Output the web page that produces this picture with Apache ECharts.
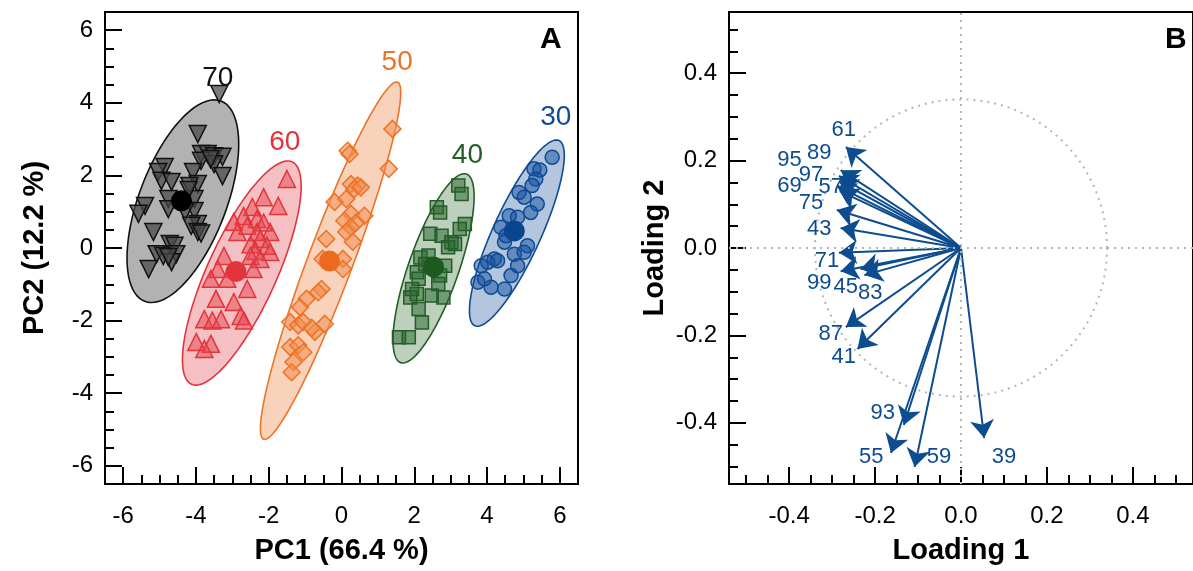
<!DOCTYPE html>
<html>
<head>
<meta charset="utf-8">
<script src="https://cdn.jsdelivr.net/npm/echarts@6/dist/echarts.min.js"></script>
<style>
  html, body { margin: 0; padding: 0; background: #fff; }
  #main { width: 1193px; height: 571px; }
</style>
</head>
<body>
<div id="main"></div>
<script>
// ---- scores (panel A) ----
var groupNames = ['30', '40', '50', '60', '70'];

var pc30 = [[5.79,2.50],[5.29,2.18],[5.45,2.15],[5.34,1.90],[5.24,1.72],[4.88,1.53],[5.02,1.40],[5.38,1.21],
  [5.20,0.98],[4.61,0.89],[4.84,0.85],[4.38,0.57],[4.52,0.34],[4.48,0.16],[5.11,0.06],[5.02,-0.12],[4.75,-0.17],
  [4.20,-0.30],[4.29,-0.35],[4.02,-0.39],[3.84,-0.49],[4.84,-0.49],[4.66,-0.76],[3.75,-0.94],[4.11,-1.08],
  [4.48,-1.13],[3.93,-0.85]];
var pc40 = [[3.21,1.72],[3.30,1.49],[2.62,1.12],[2.71,0.98],[3.39,0.66],[3.25,0.52],[2.44,0.39],[2.75,0.34],
  [3.02,0.16],[2.93,0.02],[3.12,0.11],[2.17,-0.26],[2.39,-0.21],[2.85,-0.49],[2.30,-0.44],[2.71,-0.76],
  [2.07,-0.67],[2.12,-0.85],[2.66,-0.99],[1.94,-1.13],[2.07,-1.27],[1.89,-1.36],[2.48,-1.31],[2.80,-1.36],
  [2.12,-1.68],[2.21,-2.05],[1.58,-2.46],[1.85,-2.46]];
var pc50 = [[1.40,3.28],[0.17,2.68],[0.22,2.59],[1.30,2.18],[0.26,1.76],[0.44,1.72],[0.35,1.62],[0.53,1.67],
  [-0.19,1.27],[0.13,1.35],[0.26,0.94],[0.63,0.89],[0.08,0.75],[0.40,0.70],[0.26,0.57],[0.13,0.44],[0.31,0.17],
  [-0.42,0.25],[0.04,-0.30],[-0.52,-0.30],[0.04,-0.58],[-0.55,-1.13],[-0.64,-1.22],[-0.96,-1.40],[-1.14,-1.63],
  [-1.41,-2.04],[-1.19,-2.13],[-1.05,-2.04],[-0.46,-2.09],[-0.73,-2.31],[-0.82,-2.20],[-1.41,-2.73],
  [-1.19,-2.68],[-1.05,-2.87],[-1.32,-3.14],[-1.37,-3.42]];
var pc60 = [[-1.50,1.90],[-2.14,1.40],[-1.74,1.16],[-2.45,1.13],[-2.69,0.88],[-2.32,0.80],[-2.14,0.70],
  [-2.96,0.72],[-2.59,0.61],[-2.32,0.44],[-1.96,0.44],[-2.86,0.44],[-2.23,0.25],[-2.50,0.10],[-2.05,0.06],
  [-2.36,-0.08],[-1.96,-0.11],[-3.23,-0.22],[-2.50,-0.22],[-2.23,-0.30],[-3.40,-0.58],[-2.42,-0.58],
  [-3.59,-0.85],[-3.14,-0.85],[-2.59,-1.13],[-3.45,-1.40],[-2.96,-1.49],[-2.77,-1.87],[-3.77,-1.96],
  [-3.55,-2.00],[-3.31,-1.96],[-2.68,-2.00],[-3.99,-2.59],[-3.59,-2.64],[-3.77,-2.78]];
var pc70 = [[-3.36,4.24],[-3.95,3.14],[-3.86,2.59],[-3.68,2.59],[-3.50,2.53],[-3.27,2.51],[-3.86,2.40],
  [-4.86,2.23],[-3.50,2.31],[-3.27,1.98],[-5.04,2.09],[-4.95,1.85],[-4.67,1.82],[-4.08,2.09],[-3.95,1.76],
  [-4.18,1.71],[-4.76,1.35],[-4.04,1.35],[-5.40,1.16],[-5.58,0.94],[-4.76,1.07],[-4.04,1.02],[-4.30,1.00],
  [-3.95,0.66],[-5.17,0.44],[-4.13,0.61],[-3.95,0.44],[-3.86,0.40],[-4.72,0.11],[-4.59,0.06],[-5.08,-0.17],
  [-4.90,-0.22],[-4.54,-0.17],[-5.30,-0.58],[-4.67,-0.39],[-4.76,-0.25],[-4.20,1.60],[-3.60,2.45]];
var groupPoints = [pc30, pc40, pc50, pc60, pc70];

var centroids = [[4.75,0.47],[2.53,-0.52],[-0.33,-0.36],[-2.90,-0.65],[-4.40,1.30]];
// confidence ellipses: centre x, centre y, semi-major, semi-minor, angle (deg)
var ellipses = [[4.82,0.41,2.80,0.66,65.6],[2.53,-0.56,2.75,0.69,70.8],[-0.30,-0.35,5.25,0.62,69.5],
  [-2.74,-0.69,3.36,0.95,65.7],[-4.36,1.29,2.95,1.20,69.2]];
var groupLabelPos = [[5.89,3.61],[3.46,2.56],[1.53,5.12],[-1.56,2.92],[-3.40,4.68]];

// ---- loadings (panel B) ----
var loadNames = ['61','89','95','97','69','57','75','43','71','99','45','83','87','41','93','55','59','39'];
var load1 = [-0.268,-0.280,-0.284,-0.284,-0.289,-0.282,-0.289,-0.280,-0.284,-0.280,-0.234,-0.225,-0.268,-0.241,-0.133,-0.163,-0.108,0.054];
var load2 = [0.231,0.178,0.165,0.153,0.142,0.130,0.087,0.046,-0.011,-0.053,-0.048,-0.062,-0.181,-0.231,-0.405,-0.469,-0.501,-0.435];
var labelX = [-0.273,-0.330,-0.399,-0.349,-0.399,-0.303,-0.349,-0.330,-0.312,-0.330,-0.268,-0.211,-0.303,-0.273,-0.182,-0.209,-0.051,0.100];
var labelY = [0.270,0.217,0.201,0.167,0.142,0.139,0.103,0.043,-0.030,-0.080,-0.089,-0.103,-0.197,-0.249,-0.377,-0.478,-0.478,-0.478];
var circleRadius = 0.34;

// ---- tick labels ----
var pcTicks = [-6, -4, -2, 0, 2, 4, 6];
var loadTicks = [-0.4, -0.2, 0, 0.2, 0.4];

var FONT = 'Liberation Sans, Arial, sans-serif';
var lineColors = ['#0f4c94', '#235e27', '#ed7327', '#e3343c', '#111111'];
var ellipseFills = ['#b4c6de', '#bdd0bd', '#f8d2ba', '#f4c0c3', '#b2b2b2'];
var markerFills = ['rgba(20,80,160,0.5)', 'rgba(40,100,45,0.5)', 'rgba(240,140,80,0.55)', 'rgba(230,70,80,0.5)', 'rgba(70,70,70,0.72)'];
var centroidColors = ['#0a4590', '#1e5a1f', '#ec6a1e', '#e3343c', '#000000'];
var symbols = ['circle', 'rect', 'rect', 'triangle', 'triangle'];
var symbolSizes = [14, 13, 12, 17, 17];
var symbolRotates = [0, 0, 45, 0, 180];
var blue = '#0d4c8f';

function minorTicks(lo, hi, step, majors) {
    var out = [];
    var n = Math.round((hi - lo) / step);
    for (var i = 0; i <= n; i++) {
        var v = Math.round((lo + i * step) * 1000) / 1000;
        if (!majors.some(function (m) { return Math.abs(m - v) < 1e-6; })) out.push(v);
    }
    return out;
}

function majorAxis(grid, lo, hi, pos, ticks, fmt, name, gap, margin) {
    return {
        gridIndex: grid, type: 'value', min: lo, max: hi, position: pos,
        axisLine: { show: true, onZero: false, lineStyle: { color: '#000', width: 2 } },
        axisTick: { show: true, inside: true, length: 17, customValues: ticks, lineStyle: { color: '#000', width: 2 } },
        axisLabel: { show: true, customValues: ticks, formatter: fmt, margin: margin,
            fontSize: 24, color: '#000', fontFamily: FONT },
        splitLine: { show: false },
        name: name, nameLocation: 'middle', nameGap: gap,
        nameTextStyle: { fontSize: 29, fontWeight: 'bold', color: '#000', fontFamily: FONT }
    };
}

function minorAxis(grid, lo, hi, pos, ticks) {
    return {
        gridIndex: grid, type: 'value', min: lo, max: hi, position: pos,
        axisLine: { show: false, onZero: false },
        axisTick: { show: true, inside: true, length: 9, customValues: ticks, lineStyle: { color: '#000', width: 2 } },
        axisLabel: { show: false },
        splitLine: { show: false }
    };
}

var pcMinor = minorTicks(-6, 6, 0.5, pcTicks);
var loadMinor = minorTicks(-0.5, 0.5, 0.05, loadTicks);
var fmtInt = function (v) { return String(Math.round(v)); };
var fmtDec = function (v) { return v.toFixed(1); };

function ellipseItem(params, api) {
    var cx = api.value(0), cy = api.value(1), a = api.value(2), b = api.value(3);
    var t = api.value(4) * Math.PI / 180;
    var pts = [];
    for (var k = 0; k < 120; k++) {
        var s = k / 120 * 2 * Math.PI;
        pts.push(api.coord([
            cx + a * Math.cos(s) * Math.cos(t) - b * Math.sin(s) * Math.sin(t),
            cy + a * Math.cos(s) * Math.sin(t) + b * Math.sin(s) * Math.cos(t)
        ]));
    }
    return {
        type: 'polygon', shape: { points: pts },
        style: { fill: ellipseFills[params.dataIndex], stroke: lineColors[params.dataIndex], lineWidth: 1.6 }
    };
}

function circleItem(params, api) {
    var r = api.value(2);
    var pts = [];
    for (var k = 0; k < 180; k++) {
        var s = k / 180 * 2 * Math.PI;
        pts.push(api.coord([api.value(0) + r * Math.cos(s), api.value(1) + r * Math.sin(s)]));
    }
    return {
        type: 'polygon', shape: { points: pts },
        style: { fill: 'none', stroke: '#b5b5b5', lineWidth: 2, lineDash: [2, 5] }
    };
}

var series = [];

series.push({
    type: 'custom', name: 'ellipses', xAxisIndex: 0, yAxisIndex: 0, z: 1,
    renderItem: ellipseItem, encode: { x: 0, y: 1 }, silent: true,
    data: ellipses
});

groupNames.forEach(function (g, i) {
    series.push({
        type: 'scatter', name: g, xAxisIndex: 0, yAxisIndex: 0, z: 3,
        symbol: symbols[i], symbolSize: symbolSizes[i], symbolRotate: symbolRotates[i],
        itemStyle: { color: markerFills[i], borderColor: lineColors[i], borderWidth: 1.5, opacity: 1 },
        data: groupPoints[i]
    });
});

series.push({
    type: 'scatter', name: 'centroids', xAxisIndex: 0, yAxisIndex: 0, z: 4,
    symbol: 'circle', symbolSize: 21,
    itemStyle: { color: function (p) { return centroidColors[p.dataIndex]; }, opacity: 1 },
    data: centroids
});

series.push({
    type: 'scatter', name: 'groupLabels', xAxisIndex: 0, yAxisIndex: 0, z: 5,
    symbolSize: 1, itemStyle: { color: 'rgba(0,0,0,0)', opacity: 1 },
    label: {
        show: true, position: 'inside', fontSize: 28, fontFamily: FONT,
        formatter: function (p) { return groupNames[p.dataIndex]; }
    },
    data: groupLabelPos.map(function (p, i) {
        return { value: p, label: { color: lineColors[i] } };
    })
});

series.push({
    type: 'custom', name: 'circle', xAxisIndex: 2, yAxisIndex: 2, z: 1,
    renderItem: circleItem, encode: { x: 0, y: 1 }, silent: true,
    data: [[0, 0, circleRadius]]
});

series.push({
    type: 'lines', name: 'loadings', coordinateSystem: 'cartesian2d', xAxisIndex: 2, yAxisIndex: 2, z: 3,
    symbol: ['none', 'arrow'], symbolSize: [1, 18],
    lineStyle: { color: blue, width: 2, opacity: 1, curveness: 0 },
    data: loadNames.map(function (n, i) {
        return { name: n, coords: [[0, 0], [load1[i], load2[i]]] };
    })
});

series.push({
    type: 'scatter', name: 'loadingLabels', xAxisIndex: 2, yAxisIndex: 2, z: 4,
    symbolSize: 1, itemStyle: { color: 'rgba(0,0,0,0)', opacity: 1 },
    label: {
        show: true, position: 'inside', fontSize: 22, fontFamily: FONT, color: blue,
        formatter: function (p) { return loadNames[p.dataIndex]; }
    },
    markLine: {
        silent: true, symbol: 'none', label: { show: false },
        lineStyle: { color: '#b5b5b5', type: [2, 5], width: 2 },
        data: [{ xAxis: 0 }, { yAxis: 0 }]
    },
    data: labelX.map(function (x, i) { return [x, labelY[i]]; })
});

var option = {
    animation: false,
    backgroundColor: '#fff',
    grid: [
        { left: 105, top: 12, width: 473, height: 472, show: true, borderColor: '#000', borderWidth: 2, backgroundColor: 'transparent' },
        { left: 729, top: 12, width: 472, height: 472, show: true, borderColor: '#000', borderWidth: 2, backgroundColor: 'transparent' }
    ],
    xAxis: [
        majorAxis(0, -6.5, 6.5, 'bottom', pcTicks, fmtInt, 'PC1 (66.4 %)', 52, 20),
        minorAxis(0, -6.5, 6.5, 'bottom', pcMinor),
        majorAxis(1, -0.54, 0.54, 'bottom', loadTicks, fmtDec, 'Loading 1', 52, 20),
        minorAxis(1, -0.54, 0.54, 'bottom', loadMinor)
    ],
    yAxis: [
        majorAxis(0, -6.5, 6.5, 'left', pcTicks, fmtInt, 'PC2 (12.2 %)', 56, 12),
        minorAxis(0, -6.5, 6.5, 'left', pcMinor),
        majorAxis(1, -0.54, 0.54, 'left', loadTicks, fmtDec, 'Loading 2', 60, 12),
        minorAxis(1, -0.54, 0.54, 'left', loadMinor)
    ],
    graphic: [
        { type: 'text', left: 540, top: 25, style: { text: 'A', font: 'bold 30px ' + FONT, fill: '#000' } },
        { type: 'text', left: 1165, top: 25, style: { text: 'B', font: 'bold 30px ' + FONT, fill: '#000' } }
    ],
    series: series
};

echarts.init(document.getElementById('main')).setOption(option);
</script>
</body>
</html>
